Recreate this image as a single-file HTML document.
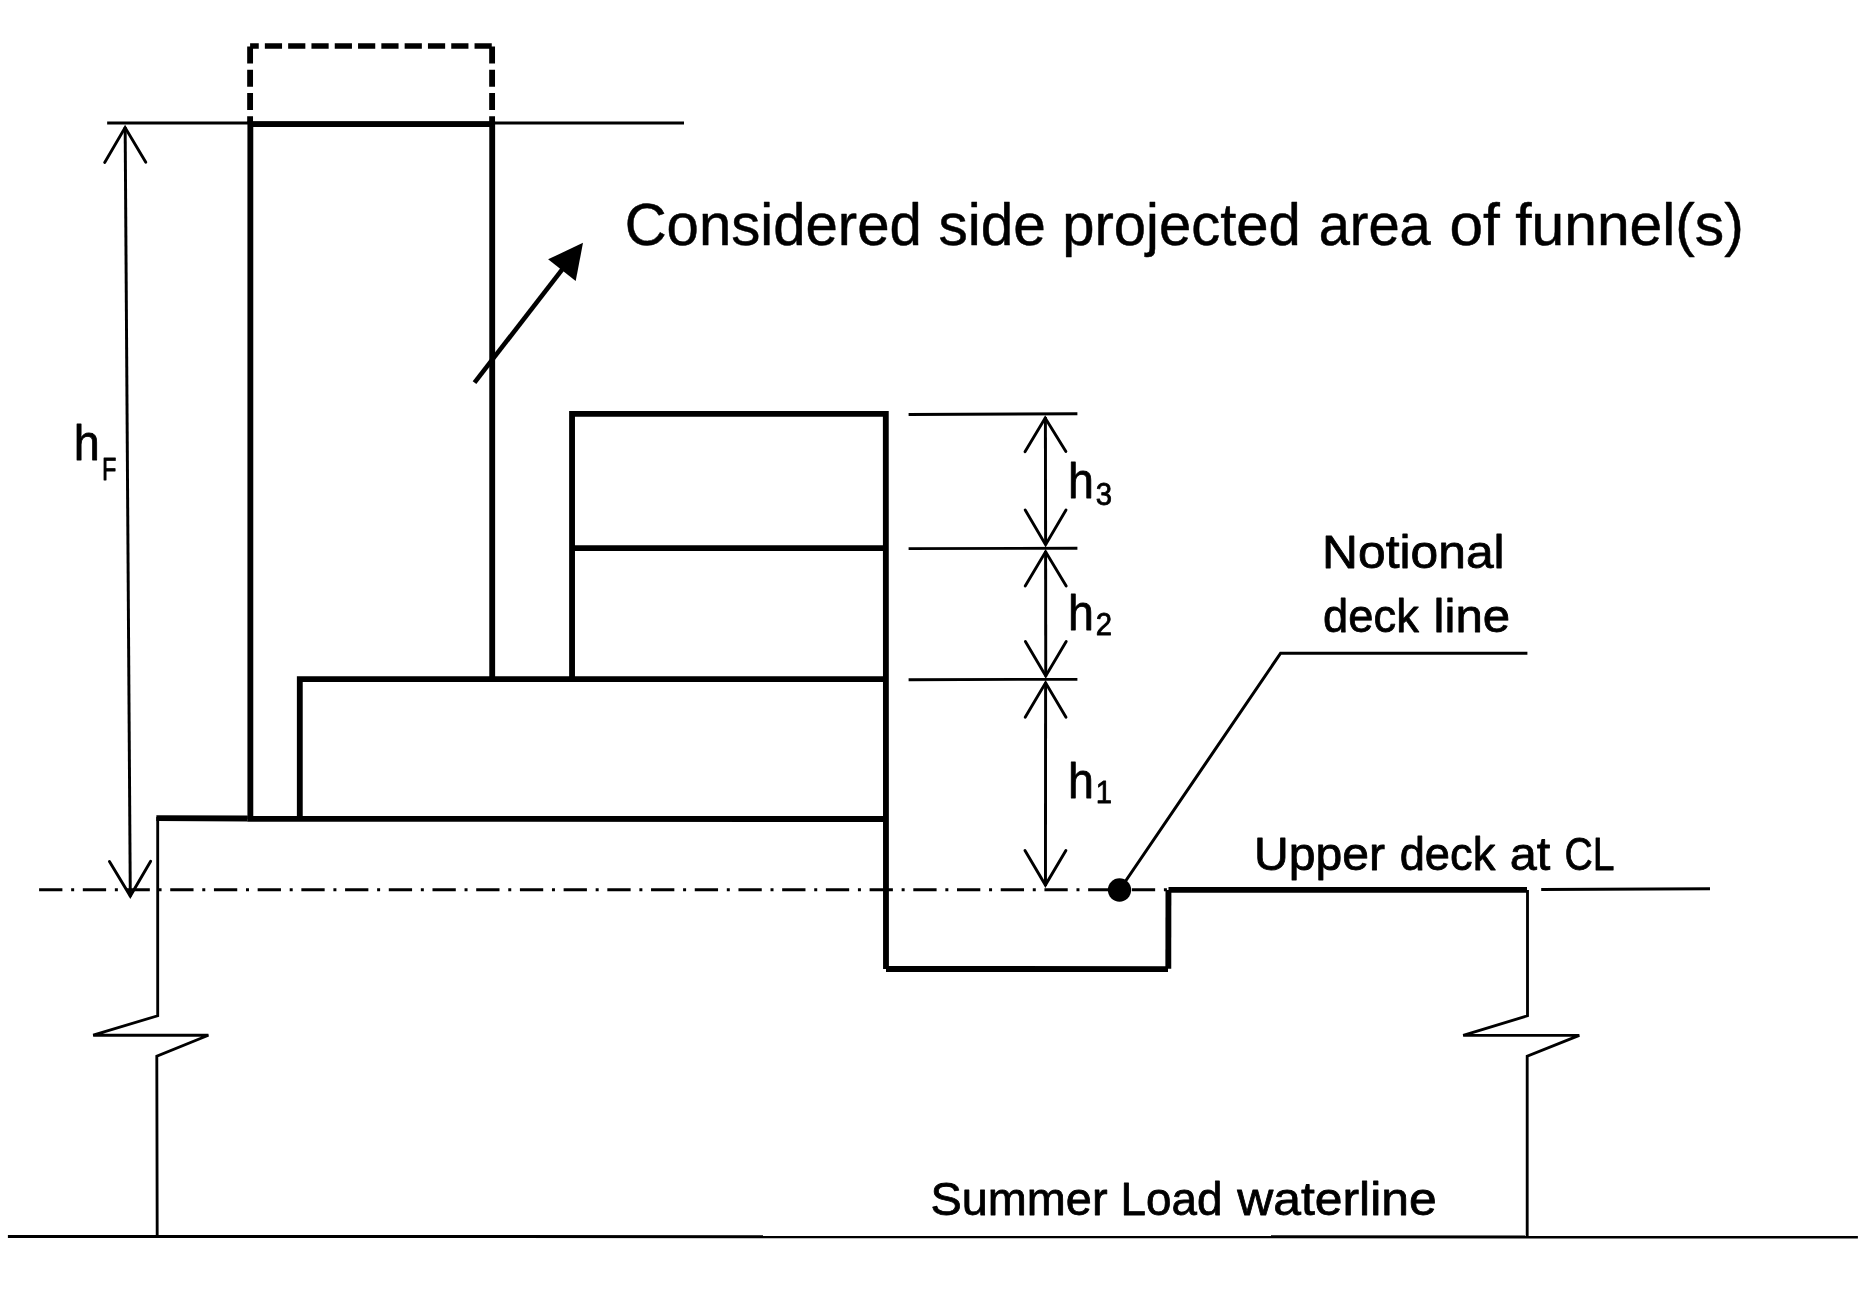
<!DOCTYPE html>
<html lang="en">
<head>
<meta charset="utf-8">
<title>Considered side projected area of funnel(s)</title>
<style>
  html, body { margin: 0; padding: 0; background: #ffffff; }
  body { width: 1872px; height: 1294px; overflow: hidden; }
  svg { display: block; will-change: transform; }
  text { font-family: "Liberation Sans", sans-serif; fill: #000; }
  .thick { stroke: #000; stroke-width: 5.85; fill: none; stroke-linecap: butt; stroke-linejoin: miter; }
  .thin  { stroke: #000; stroke-width: 2.85; fill: none; stroke-linecap: butt; stroke-linejoin: miter; }
  .head  { stroke: #000; stroke-width: 2.9; fill: none; stroke-linecap: round; stroke-linejoin: miter; }
  .shaft { stroke: #000; stroke-width: 2.95; fill: none; stroke-linecap: butt; }
  .cal { stroke: #000; stroke-width: 0.8px; stroke-linejoin: round; }
  .ttl { stroke: #000; stroke-width: 0.5px; stroke-linejoin: round; }
</style>
</head>
<body>
<svg width="1872" height="1294" viewBox="0 0 1872 1294">
  <rect x="0" y="0" width="1872" height="1294" fill="#ffffff"/>

  <!-- dashed funnel extension -->
  <g id="dashed" class="thick">
    <path d="M250.1 46 H492.15" stroke-width="5.6" stroke-dasharray="17.2 6.1" stroke-dashoffset="8.55"/>
    <path d="M250.1 46.4 V123" stroke-dasharray="17 6.25"/>
    <path d="M492.1 46.4 V123" stroke-dasharray="17 6.25"/>
  </g>

  <!-- funnel -->
  <g id="funnel" class="thick">
    <path d="M250.35 818.9 V124.05 H492.2 V679.15"/>
  </g>

  <!-- superstructure tiers -->
  <g id="tiers" class="thick">
    <path d="M299.8 818.95 V679.15 H885.9"/>
    <path d="M572.05 679.15 V413.9 H885.8 L886 969"/>
    <path d="M572.05 548.08 H885.85"/>
  </g>

  <!-- deck, well and upper deck -->
  <g id="deck" class="thick">
    <path d="M156.35 818.1 L247.6 818.5"/>
    <path d="M247.4 818.9 L885.9 819"/>
    <path d="M886 968.95 L1168 969.1"/>
    <path d="M1168.3 968.7 L1168.45 889.9"/>
    <path d="M1168.5 889.85 H1527"/>
  </g>

  <!-- hull sides with break symbols -->
  <g id="hull" class="thin">
    <path d="M157.7 817 V1015.8 L93.2 1035.2 H208.4 L156.8 1056.2 L157.2 1236.7"/>
    <path d="M1527.5 889.9 V1015.8 L1463.2 1035.4 H1579.3 L1527.2 1056.3 V1236.7"/>
  </g>

  <!-- waterline -->
  <line id="waterline" x1="7.9" y1="1236.4" x2="1857.9" y2="1237" stroke="#000" stroke-width="3"/>

  <!-- reference lines -->
  <g id="reflines" class="thin">
    <path d="M107.15 123 H684"/>
    <path d="M908.6 414.45 L1077.4 413.77"/>
    <path d="M908.6 548.6 L1077.4 548.2"/>
    <path d="M908.6 679.7 L1077.4 679.3"/>
    <path d="M1541.2 889.5 L1710 888.8" stroke-width="2.95"/>
    <path d="M39.1 889.8 H1167.2" stroke-width="3" stroke-dasharray="23.3 8.75 3 8.66"/>
  </g>

  <!-- hF dimension -->
  <g id="dim-hf">
    <path class="shaft" d="M125.15 127 L130.3 896.5"/>
    <path class="head" d="M104.70 162.40 L125.10 127.60 L145.80 162.20"/>
    <path class="head" d="M109.45 861.40 L130.30 896.10 L150.65 861.20"/>
  </g>

  <!-- h3 / h2 / h1 dimensions -->
  <g id="dim-h">
    <path class="shaft" d="M1045.4 417 L1045.6 545"/>
    <path class="head" d="M1025.00 451.70 L1045.20 418.10 L1065.90 451.55"/>
    <path class="head" d="M1025.20 510.05 L1045.60 544.70 L1066.00 510.05"/>

    <path class="shaft" d="M1045.6 551 L1045.75 676.5"/>
    <path class="head" d="M1025.20 585.90 L1045.60 551.80 L1066.20 585.90"/>
    <path class="head" d="M1025.40 641.40 L1045.75 675.90 L1066.20 641.40"/>

    <path class="shaft" d="M1045.6 682.5 L1045.45 886"/>
    <path class="head" d="M1025.20 717.30 L1045.60 682.80 L1066.00 717.30"/>
    <path class="head" d="M1024.97 850.57 L1045.40 885.10 L1065.90 850.40"/>
  </g>

  <!-- funnel pointer arrow -->
  <g id="pointer">
    <path d="M474.5 382.7 L564.6 266.3" stroke="#000" stroke-width="4.6" fill="none"/>
    <polygon points="583,242.85 548.1,259.35 575.7,281" fill="#000"/>
  </g>

  <!-- notional deck line leader -->
  <g id="leader">
    <path d="M1119.5 890 L1280.6 653.2 H1527.4" stroke="#000" stroke-width="3.05" fill="none"/>
    <circle cx="1119.5" cy="890" r="11.65" fill="#000"/>
  </g>

  <!-- labels -->
  <g id="labels">
    <text class="ttl" y="245" font-size="59.4"><tspan x="624.63" textLength="297.14" lengthAdjust="spacingAndGlyphs">Considered</tspan> <tspan x="938.43" textLength="107.44" lengthAdjust="spacingAndGlyphs">side</tspan> <tspan x="1062.22" textLength="238.68" lengthAdjust="spacingAndGlyphs">projected</tspan> <tspan x="1318.65" textLength="112.15" lengthAdjust="spacingAndGlyphs">area</tspan> <tspan x="1449.46" textLength="50.33" lengthAdjust="spacingAndGlyphs">of</tspan> <tspan x="1515.25" textLength="228.54" lengthAdjust="spacingAndGlyphs">funnel(s)</tspan></text>
    <text class="cal" font-size="47"><tspan x="1322.11" y="568" textLength="182.57" lengthAdjust="spacingAndGlyphs">Notional</tspan> <tspan x="1323.08" y="632" textLength="95.71" lengthAdjust="spacingAndGlyphs">deck</tspan> <tspan x="1433.63" y="632" textLength="76.57" lengthAdjust="spacingAndGlyphs">line</tspan></text>
    <text class="cal" y="870" font-size="47"><tspan x="1254.09" textLength="131.04" lengthAdjust="spacingAndGlyphs">Upper</tspan> <tspan x="1399.69" textLength="95.61" lengthAdjust="spacingAndGlyphs">deck</tspan> <tspan x="1509.78" textLength="40.55" lengthAdjust="spacingAndGlyphs">at</tspan> <tspan x="1564.47" textLength="50.01" lengthAdjust="spacingAndGlyphs">CL</tspan></text>
    <text class="cal" y="1215" font-size="47"><tspan x="930.54" textLength="176.99" lengthAdjust="spacingAndGlyphs">Summer</tspan> <tspan x="1120.62" textLength="101.85" lengthAdjust="spacingAndGlyphs">Load</tspan> <tspan x="1237.18" textLength="199.54" lengthAdjust="spacingAndGlyphs">waterline</tspan></text>
    <text class="cal"><tspan x="1068" y="498" font-size="49.5" textLength="25.9" lengthAdjust="spacingAndGlyphs">h</tspan><tspan x="1095.65" y="505" font-size="31.3" textLength="16.3" lengthAdjust="spacingAndGlyphs">3</tspan></text>
    <text class="cal"><tspan x="1068" y="630" font-size="49.5" textLength="25.9" lengthAdjust="spacingAndGlyphs">h</tspan><tspan x="1095.65" y="635" font-size="31.3" textLength="16.3" lengthAdjust="spacingAndGlyphs">2</tspan></text>
    <text class="cal"><tspan x="1068" y="798" font-size="49.5" textLength="25.9" lengthAdjust="spacingAndGlyphs">h</tspan><tspan x="1095.65" y="803" font-size="31.3" textLength="16.3" lengthAdjust="spacingAndGlyphs">1</tspan></text>
    <text class="cal"><tspan x="73.8" y="460" font-size="49.5" textLength="26" lengthAdjust="spacingAndGlyphs">h</tspan><tspan x="102" y="480" font-size="31.8" textLength="14.4" lengthAdjust="spacingAndGlyphs">F</tspan></text>
  </g>
</svg>
</body>
</html>
